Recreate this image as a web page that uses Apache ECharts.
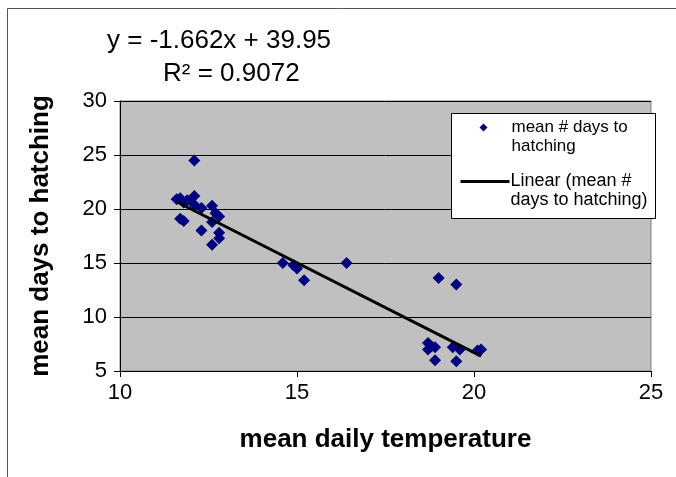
<!DOCTYPE html>
<html>
<head>
<meta charset="utf-8">
<script src="https://cdn.jsdelivr.net/npm/echarts@6/dist/echarts.min.js"></script>
<style>
html,body{margin:0;padding:0;background:#fff;}
#chart{width:676px;height:477px;}
</style>
</head>
<body>
<div id="chart"></div>
<script>
var temps = [11.6,11.7,11.8,11.9,11.7,11.8,12.1,12.1,12.1,12.3,12.3,12.6,12.7,12.8,12.6,12.8,12.8,12.6,
  14.6,14.9,15.0,15.2,16.4,
  18.7,18.8,18.7,18.9,18.9,19.0,19.5,19.4,19.6,19.5,20.1,20.2];
var days = [20.9,21.0,20.6,20.8,19.1,18.9,24.5,21.2,20.4,20.1,18.0,20.3,19.6,19.3,18.8,17.8,17.3,16.7,
  15.0,14.8,14.5,13.4,15.0,
  7.6,7.3,7.0,7.2,6.0,13.6,13.0,7.2,7.0,5.9,6.9,7.0];
var trendX = [11.6, 20.2];
var trendY = [20.67, 6.38];
var xTicks = [10,15,20,25];
var yTicks = [5,10,15,20,25,30];
var seriesName = 'mean # days to hatching';
var trendName = 'Linear (mean # days to hatching)';
var eqText = 'y = -1.662x + 39.95';
var r2Text = 'R² = 0.9072';

var points = temps.map(function(t,i){return [t, days[i]];});
var trend = trendX.map(function(t,i){return [t, trendY[i]];});

var chart = echarts.init(document.getElementById('chart'));
var font = 'Liberation Sans, Arial, sans-serif';
chart.setOption({
  animation:false,
  textStyle:{fontFamily:font},
  grid:{left:120,right:25,top:101,bottom:106,show:true,backgroundColor:'#c0c0c0',borderColor:'#808080',borderWidth:1},
  xAxis:{type:'value',min:xTicks[0],max:xTicks[xTicks.length-1],interval:5,
    name:'mean daily temperature',nameLocation:'middle',nameGap:56,
    nameTextStyle:{fontSize:26,fontWeight:'bold',color:'#000',fontFamily:font},
    axisLine:{onZero:false,lineStyle:{color:'#000',width:1}},
    axisTick:{show:true,length:6,lineStyle:{color:'#000'}},
    axisLabel:{fontSize:22,color:'#000',margin:11,fontFamily:font},
    splitLine:{show:false}},
  yAxis:{type:'value',min:yTicks[0],max:yTicks[yTicks.length-1],interval:5,
    name:'mean days to hatching',nameLocation:'middle',nameGap:66,
    nameTextStyle:{fontSize:26,fontWeight:'bold',color:'#000',fontFamily:font},
    axisLine:{show:true,onZero:false,lineStyle:{color:'#000',width:1}},
    axisTick:{show:true,length:6,lineStyle:{color:'#000'}},
    axisLabel:{fontSize:22,color:'#000',margin:13,fontFamily:font},
    splitLine:{show:true,lineStyle:{color:'#000',width:1}}},
  series:[
    {name:seriesName,type:'scatter',data:points,symbol:'diamond',symbolSize:12,
      itemStyle:{color:'#000080',opacity:1},z:3},
    {name:trendName,type:'line',data:trend,symbol:'none',lineStyle:{color:'#000',width:3},z:4}
  ],
  graphic:[
    {type:'rect',left:5,top:6,z:100,shape:{width:700,height:500},style:{fill:'none',stroke:'#555',lineWidth:1},silent:true},
    {type:'text',left:107,top:28,z:100,style:{text:eqText,fontSize:26,fill:'#000',fontFamily:font}},
    {type:'text',left:163,top:61,z:100,style:{text:r2Text,fontSize:26,fill:'#000',fontFamily:font}},
    {type:'group',left:451,top:113,z:100,children:[
      {type:'rect',z:100,shape:{x:0,y:0,width:204,height:105},style:{fill:'#fff',stroke:'#000',lineWidth:1}},
      {type:'polygon',z:101,shape:{points:[[32,10],[36,14],[32,18],[28,14]]},style:{fill:'#000080'}},
      {type:'text',z:101,x:60,y:4,style:{text:'mean # days to\nhatching',fontSize:17,lineHeight:19,fill:'#000',fontFamily:font}},
      {type:'line',z:101,shape:{x1:9,y1:68,x2:58,y2:68},style:{stroke:'#000',lineWidth:3}},
      {type:'text',z:101,x:59,y:58,style:{text:'Linear (mean #\ndays to hatching)',fontSize:18,lineHeight:19,fill:'#000',fontFamily:font}}
    ]}
  ]
});
</script>
</body>
</html>
